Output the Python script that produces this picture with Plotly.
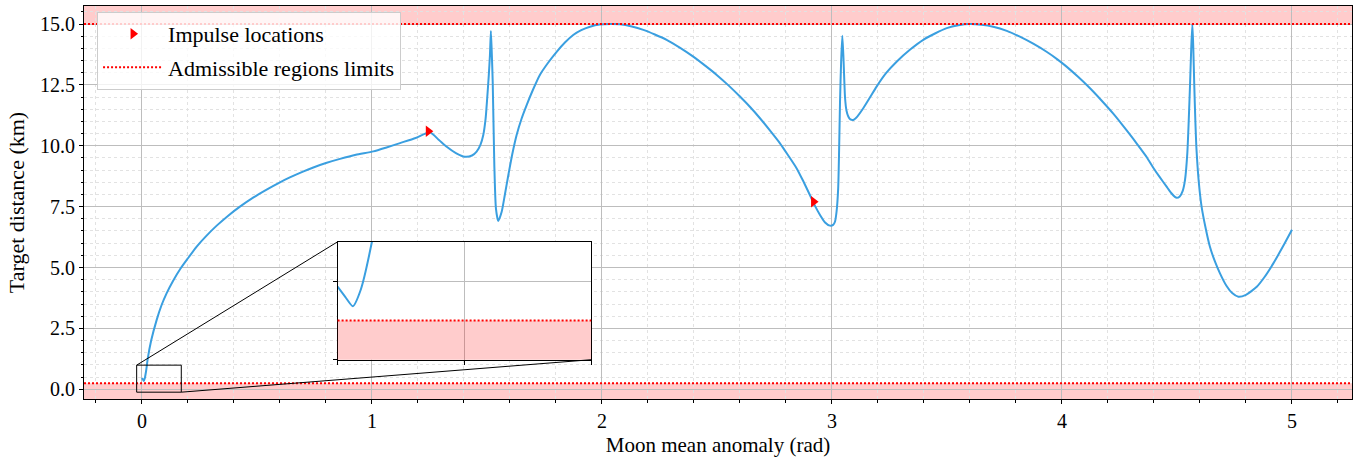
import plotly.graph_objects as go

# ---------------- data ----------------
ANOMALY = [0.000, 0.004, 0.008, 0.012, 0.018, 0.025, 0.040, 0.064, 0.085, 0.107, 0.135, 0.165, 0.200, 0.238,
           0.280, 0.325, 0.375, 0.426, 0.485, 0.542, 0.600, 0.643, 0.700, 0.745, 0.800, 0.861, 0.930, 1.006,
           1.060, 1.122, 1.190, 1.252, 1.290, 1.325, 1.365, 1.404, 1.435, 1.455, 1.472, 1.484, 1.494, 1.501,
           1.508, 1.513, 1.517, 1.521, 1.525, 1.532, 1.539, 1.549, 1.564, 1.578, 1.593, 1.610, 1.629, 1.650,
           1.673, 1.700, 1.730, 1.765, 1.803, 1.840, 1.875, 1.910, 1.948, 1.990, 2.040, 2.078, 2.130, 2.180,
           2.230, 2.281, 2.340, 2.397, 2.450, 2.499, 2.550, 2.600, 2.645, 2.687, 2.730, 2.774, 2.810, 2.846,
           2.875, 2.904, 2.925, 2.948, 2.970, 2.991, 3.005, 3.013, 3.020, 3.027, 3.031, 3.035, 3.040, 3.045,
           3.050, 3.057, 3.063, 3.071, 3.080, 3.093, 3.110, 3.136, 3.165, 3.194, 3.235, 3.281, 3.340, 3.397,
           3.450, 3.499, 3.550, 3.600, 3.650, 3.701, 3.760, 3.817, 3.875, 3.933, 3.980, 4.020, 4.070, 4.122,
           4.170, 4.223, 4.265, 4.310, 4.339, 4.370, 4.397, 4.426, 4.455, 4.475, 4.491, 4.499, 4.512, 4.525,
           4.535, 4.545, 4.551, 4.557, 4.562, 4.567, 4.571, 4.575, 4.580, 4.585, 4.595, 4.607, 4.625, 4.643,
           4.665, 4.687, 4.715, 4.740, 4.767, 4.800, 4.847, 4.880, 4.919, 4.960, 5.000]
DISTANCE = [0.465, 0.40, 0.34, 0.44, 0.75, 1.25, 2.00, 2.85, 3.45, 3.94, 4.45, 4.92, 5.38, 5.86,
            6.30, 6.72, 7.13, 7.50, 7.88, 8.20, 8.50, 8.70, 8.94, 9.11, 9.29, 9.46, 9.63, 9.77,
            9.92, 10.11, 10.32, 10.55, 10.25, 9.96, 9.70, 9.55, 9.60, 9.76, 10.05, 10.44, 11.10, 11.95,
            12.90, 13.73, 14.71, 13.80, 12.63, 9.21, 7.43, 6.91, 7.29, 8.00, 8.80, 9.65, 10.44, 11.10,
            11.68, 12.30, 12.91, 13.40, 13.86, 14.25, 14.55, 14.75, 14.89, 14.98, 15.00, 14.99, 14.90, 14.76,
            14.57, 14.35, 14.02, 13.66, 13.28, 12.91, 12.48, 12.02, 11.58, 11.13, 10.63, 10.10, 9.60, 9.08,
            8.55, 7.98, 7.55, 7.16, 6.85, 6.72, 6.75, 6.88, 7.30, 8.25, 9.80, 11.81, 13.50, 14.52,
            13.60, 11.95, 11.45, 11.20, 11.08, 11.06, 11.20, 11.54, 11.98, 12.43, 12.98, 13.45, 13.95, 14.35,
            14.62, 14.83, 14.95, 15.00, 14.97, 14.89, 14.72, 14.48, 14.19, 13.86, 13.55, 13.25, 12.83, 12.36,
            11.88, 11.32, 10.83, 10.28, 9.91, 9.51, 9.10, 8.70, 8.32, 8.06, 7.90, 7.86, 7.92, 8.15,
            8.60, 9.70, 11.00, 12.57, 14.00, 15.00, 14.00, 12.57, 11.00, 9.83, 8.50, 7.50, 6.60, 5.86,
            5.25, 4.76, 4.25, 3.95, 3.80, 3.88, 4.21, 4.60, 5.17, 5.85, 6.55]
IMPULSE_X = [1.245, 2.920]
IMPULSE_Y = [10.60, 7.70]
LIMIT_LOW = 0.25
LIMIT_HIGH = 15.0
X_TICKS = [0, 1, 2, 3, 4, 5]
Y_TICKS = [0.0, 2.5, 5.0, 7.5, 10.0, 12.5, 15.0]

# ---------------- layout constants ----------------
XR = [-0.252, 5.261]
YR = [-0.40, 15.74]
IN_XR = [0.0, 0.133]
IN_YR = [0.0, 0.75]
IN_DOM_X = [0.2, 0.4]
IN_DOM_Y = [0.1, 0.4]
BOX_X = [-0.023, 0.171]
BOX_Y = [-0.12, 0.99]

LINE_COLOR = "#3a9fe0"
FONT = "Liberation Serif"
PINK = "rgba(255,0,0,0.2)"
GRID = "#bdbdbd"
MINOR_GRID = "#e2e2e2"

fig = go.Figure()

fig.add_trace(go.Scatter(x=ANOMALY, y=DISTANCE, mode="lines", showlegend=False,
                         line=dict(color=LINE_COLOR, width=2, shape="spline", smoothing=0.6),
                         xaxis="x", yaxis="y"))
fig.add_trace(go.Scatter(x=IMPULSE_X, y=IMPULSE_Y, mode="markers", name="Impulse locations",
                         marker=dict(symbol="triangle-right", color="red", size=10, line=dict(width=0)),
                         legendgroup="a"))
fig.add_trace(go.Scatter(x=[None], y=[None], mode="lines", name="Admissible regions limits",
                         line=dict(color="red", width=2, dash="2px,2px"), legendgroup="b"))
# inset curve
fig.add_trace(go.Scatter(x=ANOMALY, y=DISTANCE, mode="lines", showlegend=False,
                         line=dict(color=LINE_COLOR, width=2, shape="spline", smoothing=0.6),
                         xaxis="x2", yaxis="y2"))

shapes = []
for xr, yr, ylo, yhi, lay in (("x domain", "y", YR[0], YR[1], "below"),
                              ("x2 domain", "y2", IN_YR[0], IN_YR[1], "above")):
    shapes.append(dict(type="rect", xref=xr, yref=yr, x0=0, x1=1, y0=ylo - 5, y1=LIMIT_LOW,
                       fillcolor=PINK, line=dict(width=0), layer=lay))
    shapes.append(dict(type="rect", xref=xr, yref=yr, x0=0, x1=1, y0=LIMIT_HIGH, y1=yhi + 5,
                       fillcolor=PINK, line=dict(width=0), layer=lay))
    for lim in (LIMIT_LOW, LIMIT_HIGH):
        shapes.append(dict(type="line", xref=xr, yref=yr, x0=0, x1=1, y0=lim, y1=lim,
                           line=dict(color="red", width=2, dash="2px,2px"), layer="above"))

# zoom box on main axes
shapes.append(dict(type="rect", xref="x", yref="y", x0=BOX_X[0], x1=BOX_X[1], y0=BOX_Y[0], y1=BOX_Y[1],
                   line=dict(color="black", width=1), layer="above"))


def px(v):
    return (v - XR[0]) / (XR[1] - XR[0])


def py(v):
    return (v - YR[0]) / (YR[1] - YR[0])


# connector lines (upper-left and lower-right corners)
shapes.append(dict(type="line", xref="paper", yref="paper", x0=px(BOX_X[0]), y0=py(BOX_Y[1]),
                   x1=IN_DOM_X[0], y1=IN_DOM_Y[1], line=dict(color="black", width=1), layer="above"))
shapes.append(dict(type="line", xref="paper", yref="paper", x0=px(BOX_X[1]), y0=py(BOX_Y[0]),
                   x1=IN_DOM_X[1], y1=IN_DOM_Y[0], line=dict(color="black", width=1), layer="above"))

axis_common = dict(showline=True, linecolor="black", linewidth=1, mirror=True, ticks="outside",
                   tickcolor="black", ticklen=4, tickwidth=1, zeroline=False, gridcolor=GRID, gridwidth=1.2)

fig.update_layout(
    width=1369, height=464,
    margin=dict(l=84, r=17, t=6, b=65),
    paper_bgcolor="white", plot_bgcolor="white",
    font=dict(family=FONT, size=20, color="black"),
    shapes=shapes,
    xaxis=dict(range=XR, tickvals=X_TICKS, ticktext=[str(v) for v in X_TICKS],
               title=dict(text="Moon mean anomaly (rad)", font=dict(size=21), standoff=6),
               minor=dict(dtick=0.2, tick0=0, ticks="outside", ticklen=2.5, tickcolor="black",
                          showgrid=True, gridcolor=MINOR_GRID, griddash="dot", gridwidth=1),
               tickfont=dict(size=20), **axis_common),
    yaxis=dict(range=YR, tickvals=Y_TICKS, ticktext=[f"{v:.1f}" for v in Y_TICKS],
               title=dict(text="Target distance (km)", font=dict(size=22), standoff=9),
               minor=dict(dtick=0.5, tick0=0, ticks="outside", ticklen=2.5, tickcolor="black",
                          showgrid=True, gridcolor=MINOR_GRID, griddash="dot", gridwidth=1),
               tickfont=dict(size=20), **axis_common),
    xaxis2=dict(domain=IN_DOM_X, anchor="y2", range=IN_XR,
                tickvals=[IN_XR[0], (IN_XR[0] + IN_XR[1]) / 2, IN_XR[1]], showticklabels=False,
                **axis_common),
    yaxis2=dict(domain=IN_DOM_Y, anchor="x2", range=IN_YR, tickvals=[0.0, 0.5], showticklabels=False,
                **axis_common),
    legend=dict(x=0.0103, y=0.985, xanchor="left", yanchor="top", bgcolor="rgba(255,255,255,0.8)",
                bordercolor="#cccccc", borderwidth=1, font=dict(family=FONT, size=22),
                traceorder="grouped", tracegroupgap=2, itemwidth=60),
)

fig.write_html("out.html", config={"displayModeBar": False},
               post_script="document.body.style.margin='0';")
